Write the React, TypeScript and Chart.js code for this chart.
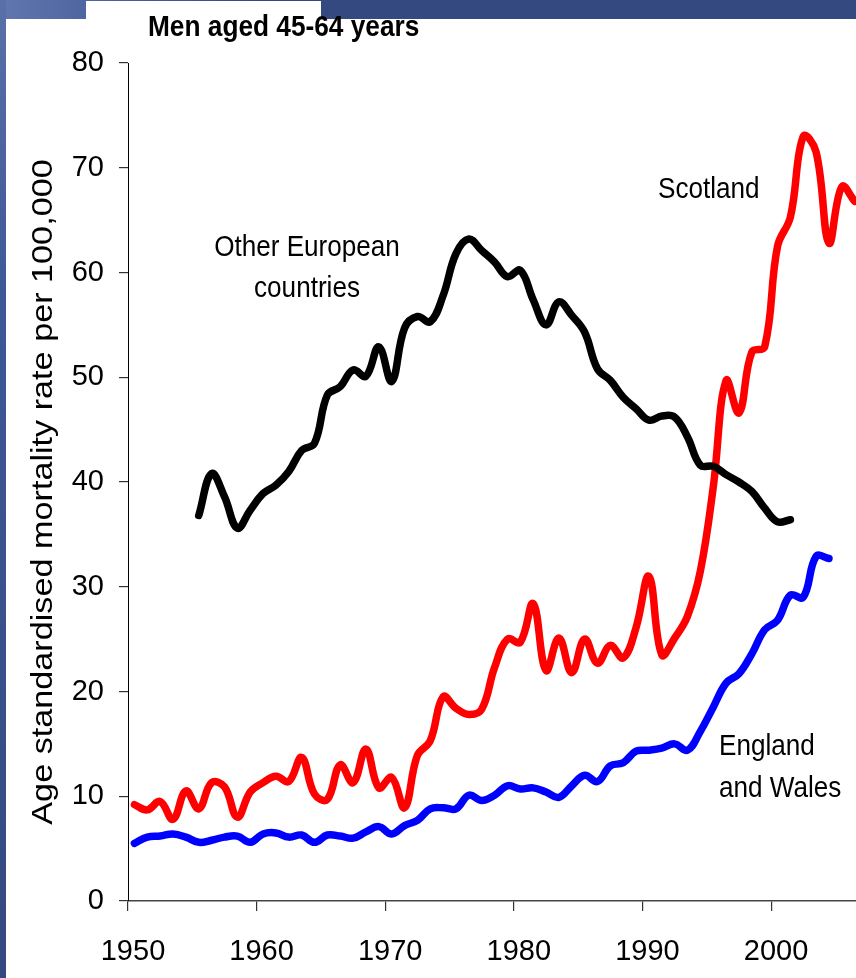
import React, { useEffect, useRef } from 'react';
import { Chart, registerables } from 'chart.js';

Chart.register(...registerables);

// ---- data ----
const scotlandYears = [1950, 1951, 1952, 1953, 1954, 1955, 1956, 1957, 1958, 1959, 1960, 1961, 1962, 1963, 1964, 1965, 1966, 1967, 1968, 1969, 1970, 1971, 1972, 1973, 1974, 1975, 1976, 1977, 1978, 1979, 1980, 1981, 1982, 1983, 1984, 1985, 1986, 1987, 1988, 1989, 1990, 1991, 1992, 1993, 1994, 1995, 1996, 1997, 1998, 1999, 2000, 2001, 2002, 2003, 2004, 2005, 2006];
const scotlandValues = [9.2, 8.7, 9.5, 7.8, 10.5, 8.8, 11.3, 10.9, 8.0, 10.4, 11.3, 11.9, 11.4, 13.7, 10.2, 9.7, 13.0, 11.3, 14.5, 10.8, 11.8, 8.9, 13.9, 15.3, 19.5, 18.4, 17.8, 18.3, 22.3, 25.0, 24.7, 28.4, 22.0, 25.1, 21.8, 25.0, 22.7, 24.4, 23.2, 26.1, 31.0, 23.5, 25.1, 27.2, 31.5, 39.5, 49.7, 46.6, 52.4, 52.9, 62.5, 65.3, 73.0, 71.5, 62.8, 68.2, 66.8];

const englandYears = [1950, 1951, 1952, 1953, 1954, 1955, 1956, 1957, 1958, 1959, 1960, 1961, 1962, 1963, 1964, 1965, 1966, 1967, 1968, 1969, 1970, 1971, 1972, 1973, 1974, 1975, 1976, 1977, 1978, 1979, 1980, 1981, 1982, 1983, 1984, 1985, 1986, 1987, 1988, 1989, 1990, 1991, 1992, 1993, 1994, 1995, 1996, 1997, 1998, 1999, 2000, 2001, 2002, 2003, 2004];
const englandValues = [5.5, 6.1, 6.2, 6.4, 6.1, 5.6, 5.8, 6.1, 6.2, 5.6, 6.4, 6.5, 6.1, 6.3, 5.6, 6.3, 6.2, 6.0, 6.6, 7.1, 6.4, 7.2, 7.7, 8.8, 8.9, 8.8, 10.1, 9.6, 10.1, 11.0, 10.7, 10.8, 10.4, 9.9, 11.0, 12.0, 11.4, 12.9, 13.2, 14.3, 14.4, 14.6, 15.0, 14.4, 16.2, 18.5, 20.8, 21.7, 23.6, 25.9, 26.8, 29.2, 29.0, 32.9, 32.7];

const europeYears = [1955, 1956, 1957, 1958, 1959, 1960, 1961, 1962, 1963, 1964, 1965, 1966, 1967, 1968, 1969, 1970, 1971, 1972, 1973, 1974, 1975, 1976, 1977, 1978, 1979, 1980, 1981, 1982, 1983, 1984, 1985, 1986, 1987, 1988, 1989, 1990, 1991, 1992, 1993, 1994, 1995, 1996, 1997, 1998, 1999, 2000, 2001];
const europeValues = [36.8, 40.8, 38.6, 35.6, 37.3, 38.9, 39.7, 41.0, 43.0, 43.7, 48.3, 49.1, 50.7, 50.1, 52.9, 49.6, 54.7, 55.8, 55.3, 57.8, 61.8, 63.2, 62.1, 61.0, 59.6, 60.2, 57.4, 55.0, 57.2, 55.9, 54.3, 50.8, 49.7, 48.1, 47.0, 45.9, 46.3, 46.2, 44.3, 41.6, 41.5, 40.7, 40.0, 39.1, 37.5, 36.2, 36.4];

const xTickValues = [1950, 1960, 1970, 1980, 1990, 2000];
const yTickValues = [0, 10, 20, 30, 40, 50, 60, 70, 80];

const titleText = 'Men aged 45-64 years';
const yAxisTitle = 'Age standardised mortality rate per 100,000';

// yearly rates are plotted at mid-year
const MID_YEAR = 0.5;

const toPoints = (years: number[], values: number[]) =>
  years.map((yr, i) => ({ x: yr + MID_YEAR, y: values[i] }));

const FONT = '"Liberation Sans", Arial, Helvetica, sans-serif';

const textPlugin = {
  id: 'slideText',
  afterDraw(chart: any) {
    const ctx = chart.ctx as CanvasRenderingContext2D;
    const drawText = (
      text: string,
      x: number,
      y: number,
      font: string,
      sx: number,
      align: CanvasTextAlign
    ) => {
      ctx.save();
      ctx.translate(x, y);
      ctx.scale(sx, 1);
      ctx.font = font;
      ctx.fillStyle = '#000';
      ctx.textAlign = align;
      ctx.textBaseline = 'alphabetic';
      ctx.fillText(text, 0, 0);
      ctx.restore();
    };
    // title
    drawText(titleText, 148, 36, `bold 29px ${FONT}`, 0.905, 'left');
    // annotations
    const annFont = `30px ${FONT}`;
    drawText('Other European', 307, 256, annFont, 0.87, 'center');
    drawText('countries', 307, 297, annFont, 0.87, 'center');
    drawText('Scotland', 658, 198, annFont, 0.87, 'left');
    drawText('England', 719, 755, annFont, 0.87, 'left');
    drawText('and Wales', 719, 797, annFont, 0.87, 'left');
    // y axis title
    ctx.save();
    ctx.translate(52, 492);
    ctx.rotate(-Math.PI / 2);
    ctx.scale(1.14, 1);
    ctx.font = `30px ${FONT}`;
    ctx.fillStyle = '#000';
    ctx.textAlign = 'center';
    ctx.textBaseline = 'alphabetic';
    ctx.fillText(yAxisTitle, 0, 0);
    ctx.restore();
  },
};

function MortalityChart() {
  const canvasRef = useRef<HTMLCanvasElement | null>(null);

  useEffect(() => {
    const canvas = canvasRef.current;
    if (!canvas) return;
    const lineStyle = {
      borderWidth: 7.5,
      pointRadius: 0,
      tension: 0.4,
      borderCapStyle: 'round' as const,
      borderJoinStyle: 'round' as const,
      fill: false,
    };
    const chart = new Chart(canvas, {
      type: 'line',
      data: {
        datasets: [
          { label: 'Other European countries', data: toPoints(europeYears, europeValues), borderColor: '#000000', ...lineStyle },
          { label: 'Scotland', data: toPoints(scotlandYears, scotlandValues), borderColor: '#ff0000', ...lineStyle },
          { label: 'England and Wales', data: toPoints(englandYears, englandValues), borderColor: '#0000ff', ...lineStyle },
        ],
      },
      options: {
        animation: false,
        responsive: false,
        maintainAspectRatio: false,
        layout: { padding: { top: 63, left: 0, right: 0, bottom: 0 } },
        plugins: {
          legend: { display: false },
          tooltip: { enabled: false },
          title: { display: false },
        },
        scales: {
          x: {
            type: 'linear',
            min: 1950,
            max: 2006.6,
            afterBuildTicks: (axis: any) => {
              axis.ticks = xTickValues.map((v) => ({ value: v }));
            },
            afterFit: (axis: any) => {
              axis.height = 77;
            },
            grid: {
              display: true,
              drawOnChartArea: false,
              drawTicks: true,
              tickLength: 10,
              color: '#333',
              lineWidth: 1.2,
            },
            border: { display: true, color: '#444', width: 1.5 },
            ticks: {
              font: { family: FONT, size: 29 },
              color: '#000',
              padding: 24,
              labelOffset: 5,
              maxRotation: 0,
              autoSkip: false,
              callback: (v: any) => String(v),
            },
          },
          y: {
            type: 'linear',
            min: 0,
            max: 80,
            afterBuildTicks: (axis: any) => {
              axis.ticks = yTickValues.map((v) => ({ value: v }));
            },
            afterFit: (axis: any) => {
              axis.width = 128;
            },
            grid: {
              display: true,
              drawOnChartArea: false,
              drawTicks: true,
              tickLength: 9,
              color: '#333',
              lineWidth: 1.2,
            },
            border: { display: true, color: '#000', width: 1 },
            ticks: {
              font: { family: FONT, size: 29 },
              color: '#000',
              padding: 15,
              callback: (v: any) => String(v),
            },
          },
        },
      },
      plugins: [textPlugin],
    });
    return () => {
      chart.destroy();
    };
  }, []);

  return (
    <canvas
      ref={canvasRef}
      width={856}
      height={978}
      style={{ position: 'absolute', left: 0, top: 0, width: 856, height: 978 }}
    />
  );
}

export default function App() {
  return (
    <div
      style={{
        position: 'absolute',
        left: 0,
        top: 0,
        width: 856,
        height: 978,
        overflow: 'hidden',
        background: '#ffffff',
      }}
    >
      {/* slide frame */}
      <div
        style={{
          position: 'absolute',
          left: 0,
          top: 0,
          width: 856,
          height: 19,
          background: 'linear-gradient(90deg, #6277ad 0%, #4a62a0 12%, #34497f 30%, #34497f 100%)',
        }}
      />
      <div
        style={{
          position: 'absolute',
          left: 0,
          top: 0,
          width: 6,
          height: 978,
          background: 'linear-gradient(180deg, #5a70a8 0%, #3e5897 30%, #34497f 100%)',
        }}
      />
      <div
        style={{
          position: 'absolute',
          left: 86,
          top: 1,
          width: 235,
          height: 19,
          background: '#ffffff',
        }}
      />
      <MortalityChart />
    </div>
  );
}
